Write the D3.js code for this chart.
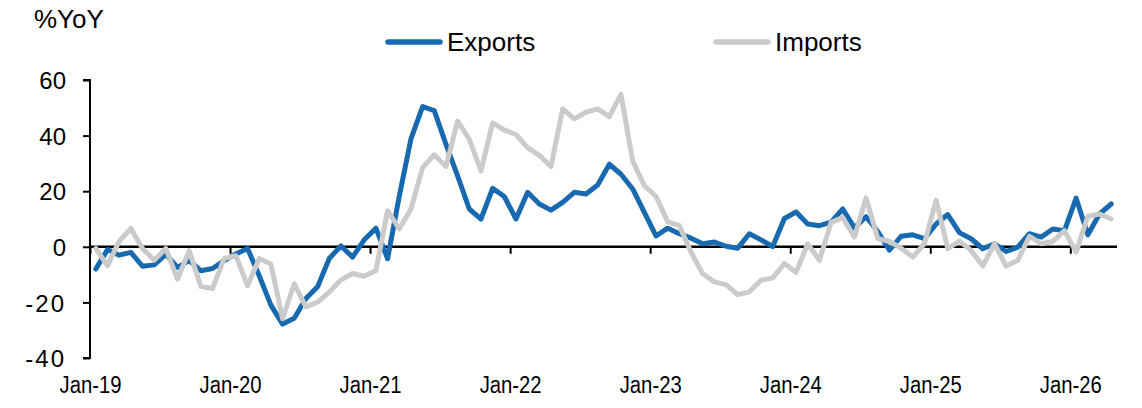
<!DOCTYPE html>
<html>
<head>
<meta charset="utf-8">
<script src="https://cdn.jsdelivr.net/npm/d3@7"></script>
<style>
  html, body { margin: 0; padding: 0; background: #fff; }
  svg text { font-family: "Liberation Sans", Arial, sans-serif; fill: #000; }
</style>
</head>
<body>
<svg id="chart"></svg>
<script>
// monthly categories, Jan-19 .. Apr-26
const months = d3.timeMonths(new Date(2019, 0, 1), new Date(2026, 4, 1));
const tickLabels = ["Jan-19", "Jan-20", "Jan-21", "Jan-22", "Jan-23", "Jan-24", "Jan-25", "Jan-26"];
const yTicks = [-40, -20, 0, 20, 40, 60];

// %YoY
const exportsYoY = [
  -8, -1, -3, -2, -7, -6.5, -2.7, -7.4, -5, -8.6, -7.8, -5,
  -2.6, -0.6, -10.4, -21, -27.8, -25.7, -18.6, -14.4, -4.2, 0.3, -3.7, 2.5,
  6.7, -4.3, 18.2, 38.8, 50.4, 49, 36.9, 25.5, 13.6, 10, 21, 18.1,
  10, 19.6, 15.4, 13.2, 16, 19.6, 19, 22.2, 29.7, 26.1, 20.8, 12.4,
  3.9, 6.7, 4.7, 3.1, 1.1, 1.7, 0.2, -0.5, 4.7, 2.5, 0.1, 10.2,
  12.5, 8.2, 7.6, 8.9, 13.6, 6.8, 10.8, 5.5, -1.2, 3.8, 4.3, 2.9,
  8.2, 11.6, 5.1, 2.9, -0.7, 1.1, -1.7, -0.1, 4.7, 3.5, 6.4, 5.8,
  17.5, 4.3, 11.8, 15.4
];
const importsYoY = [
  -0.6, -6.8, 2, 6.6, -0.6, -4.8, -0.6, -11.6, -1.4, -14.3, -15, -4.2,
  -3.2, -14, -4.2, -6.2, -25.9, -13.3, -21.6, -19.9, -16.3, -11.9, -9.6, -10.6,
  -8.5, 13, 6.4, 13.6, 28.5, 33.1, 28.9, 45.2, 38.6, 27.3, 44.6, 42,
  40.4, 35.7, 32.9, 28.9, 49.6, 46, 48.4, 49.6, 46.8, 54.8, 30.9, 22,
  18.1, 9, 7.6, -1.9, -9.7, -12.6, -13.6, -17.2, -16.2, -12, -11.2, -6,
  -9.2, 1.1, -4.9, 8.8, 10.5, 3.5, 17.6, 3, 1.9, -0.5, -3.7, 1.1,
  16.8, -0.7, 2.1, -1.3, -6.9, 1.1, -6.9, -4.9, 3.8, 1.1, 1.9, 5.8,
  -1.9, 11, 11.8, 10
];

const width = 1142, height = 408;
const plot = { left: 90, right: 1117, top: 80, bottom: 358 };
const blue = "#1769b0", grey = "#cbcbcb";

const svg = d3.select("#chart").attr("width", width).attr("height", height);

// category axis: every month gets one slot, points sit in the middle of it
const x = d3.scaleLinear().domain([0, months.length]).range([plot.left, plot.right]);
const y = d3.scaleLinear().domain([-40, 60]).range([plot.bottom, plot.top]);

// y axis
const yAxis = svg.append("g")
  .attr("transform", `translate(${plot.left},0)`)
  .call(d3.axisLeft(y).tickValues(yTicks).tickSize(7).tickPadding(17).tickFormat(d => String(d)));
yAxis.select(".domain").attr("stroke", "#000").attr("stroke-width", 2).attr("d", `M-7,${y(60)}H0V${y(-40)}H-7`);
yAxis.selectAll(".tick line").attr("stroke", "#000").attr("stroke-width", 2);
yAxis.selectAll(".tick text").style("font-size", "24px").attr("dy", "0.36em")
  .attr("letter-spacing", d => d < 0 ? "2px" : null);

// zero line with year ticks
const yearIdx = tickLabels.map((_, i) => i * 12);
const xAxis = svg.append("g")
  .attr("transform", `translate(0,${y(0)})`)
  .call(d3.axisBottom(x).tickValues(yearIdx).tickSize(7).tickFormat(""));
xAxis.select(".domain").attr("stroke", "#000").attr("stroke-width", 2.5).attr("d", `M${plot.left},0H${plot.right}`);
xAxis.selectAll(".tick line").attr("stroke", "#000").attr("stroke-width", 2);

// year labels along the bottom
const xLabels = svg.append("g")
  .attr("transform", `translate(0,385)`)
  .call(d3.axisBottom(x).tickValues(yearIdx).tickSize(0).tickPadding(0).tickFormat((d, i) => tickLabels[i]));
xLabels.select(".domain").remove();
xLabels.selectAll(".tick text").style("font-size", "23px").attr("dy", "0.36em")
  .attr("textLength", 62).attr("lengthAdjust", "spacingAndGlyphs");

// lines
const line = d3.line().x((d, i) => x(i + 0.5)).y(d => y(d)).curve(d3.curveLinear);

svg.append("path").datum(exportsYoY)
  .attr("fill", "none").attr("stroke", blue).attr("stroke-width", 5)
  .attr("stroke-linejoin", "round").attr("stroke-linecap", "round")
  .attr("d", line);

svg.append("path").datum(importsYoY)
  .attr("fill", "none").attr("stroke", grey).attr("stroke-width", 5)
  .attr("stroke-linejoin", "round").attr("stroke-linecap", "round")
  .attr("d", line);

// unit label
svg.append("text").attr("x", 34).attr("y", 28).style("font-size", "26px").text("%YoY");

// legend
const legend = [
  { name: "Exports", color: blue, x: 388 },
  { name: "Imports", color: grey, x: 716 }
];
const lg = svg.append("g").selectAll("g").data(legend).join("g")
  .attr("transform", d => `translate(${d.x},42)`);
lg.append("line").attr("x1", 0).attr("x2", 52).attr("y1", 0).attr("y2", 0)
  .attr("stroke", d => d.color).attr("stroke-width", 5.5).attr("stroke-linecap", "round");
lg.append("text").attr("x", 59).attr("y", 0).attr("dy", "0.36em")
  .style("font-size", "26px").text(d => d.name);
</script>
</body>
</html>
